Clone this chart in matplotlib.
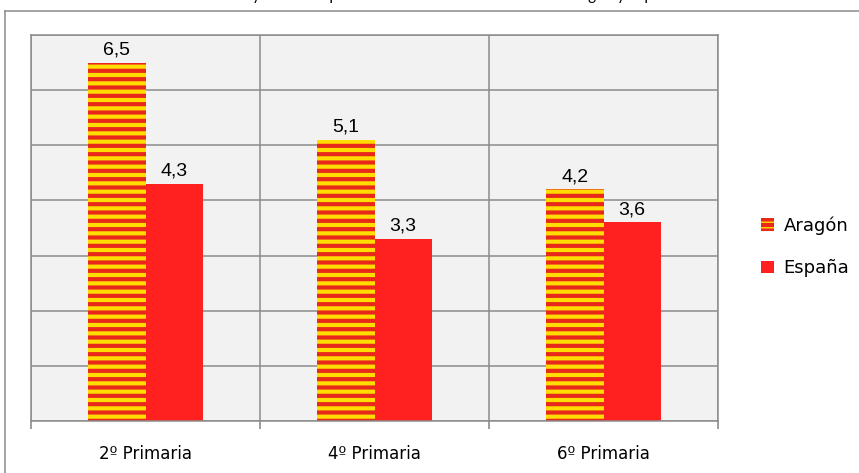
import matplotlib
matplotlib.use("Agg")
import matplotlib.pyplot as plt
import numpy as np
from matplotlib.patches import Patch
from matplotlib.lines import Line2D

# === datos ===
cursos = ["2º Primaria", "4º Primaria", "6º Primaria"]
aragon = [6.5, 5.1, 4.2]
espana = [4.3, 3.3, 3.6]
etiquetas_aragon = ["6,5", "5,1", "4,2"]
etiquetas_espana = ["4,3", "3,3", "3,6"]
series = ["Aragón", "España"]
titulo = "Evolución y tasa de repetición del alumnado en Primaria: Aragón y España"

# === estilo ===
gris = "#8c8c8c"
rojo = "#ff2020"
rojo_raya = "#e8281a"
amarillo = "#ffdd00"
plt.rcParams["hatch.color"] = rojo_raya
plt.rcParams["hatch.linewidth"] = 3.0

fig = plt.figure(figsize=(8.59, 4.73), dpi=100)
ax = fig.add_axes([31 / 859, 52 / 473, 687 / 859, 386 / 473])
ax.set_facecolor("#f2f2f2")

x = np.arange(len(cursos))
w = 0.25
b1 = ax.bar(x - w / 2, aragon, w, color=amarillo, edgecolor=rojo_raya,
            linewidth=0, hatch="--", label=series[0])
b2 = ax.bar(x + w / 2, espana, w, color=rojo, linewidth=0, label=series[1])

# etiquetas de valor
for bars, labs in ((b1, etiquetas_aragon), (b2, etiquetas_espana)):
    for rect, lab in zip(bars, labs):
        ax.annotate(lab, (rect.get_x() + rect.get_width() / 2, rect.get_height()),
                    xytext=(0, 5.8), textcoords="offset points",
                    ha="center", va="baseline", fontsize=14,
                    family="Liberation Sans", color="black")

# ejes
ax.set_xlim(-0.5, len(cursos) - 0.5)
ax.set_ylim(0, 7)
ax.set_yticks(np.arange(0, 8, 1))
ax.set_yticklabels([])
ax.tick_params(axis="y", length=0)
ax.set_xticks(x)
ax.set_xticklabels(cursos, fontsize=12, family="DejaVu Sans")
ax.set_xticks(np.arange(-0.5, len(cursos), 1), minor=True)
ax.tick_params(axis="x", which="major", length=0, pad=17)
ax.tick_params(axis="x", which="minor", length=6, width=1.2, color=gris, direction="out")
ax.grid(axis="y", color=gris, linewidth=1.1)
ax.grid(axis="x", which="minor", color=gris, linewidth=1.1)
ax.set_axisbelow(True)
for s in ax.spines.values():
    s.set_color(gris)
    s.set_linewidth(1.1)

# leyenda
handles = [Patch(facecolor=amarillo, edgecolor=rojo_raya, linewidth=0, hatch="---"),
           Patch(facecolor=rojo, linewidth=0)]
fig.legend(handles, series, loc="center left", bbox_to_anchor=(761 / 859, 1 - 247 / 473),
           frameon=False, borderpad=0, borderaxespad=0,
           handlelength=0.7, handleheight=0.7, handletextpad=0.55, labelspacing=1.35,
           prop={"family": "DejaVu Sans", "size": 13})

# marco exterior
fig.add_artist(Line2D([5 / 859, 5 / 859], [-0.1, 1 - 11 / 473], transform=fig.transFigure,
                      color=gris, linewidth=1.1))
fig.add_artist(Line2D([5 / 859, 1.1], [1 - 11 / 473, 1 - 11 / 473], transform=fig.transFigure,
                      color=gris, linewidth=1.1))

# título (recortado arriba, como en el original)
fig.text(0.5, 1.0, titulo, ha="center", va="baseline", fontsize=11, family="Lato")

fig.savefig("out.png", dpi=100)
